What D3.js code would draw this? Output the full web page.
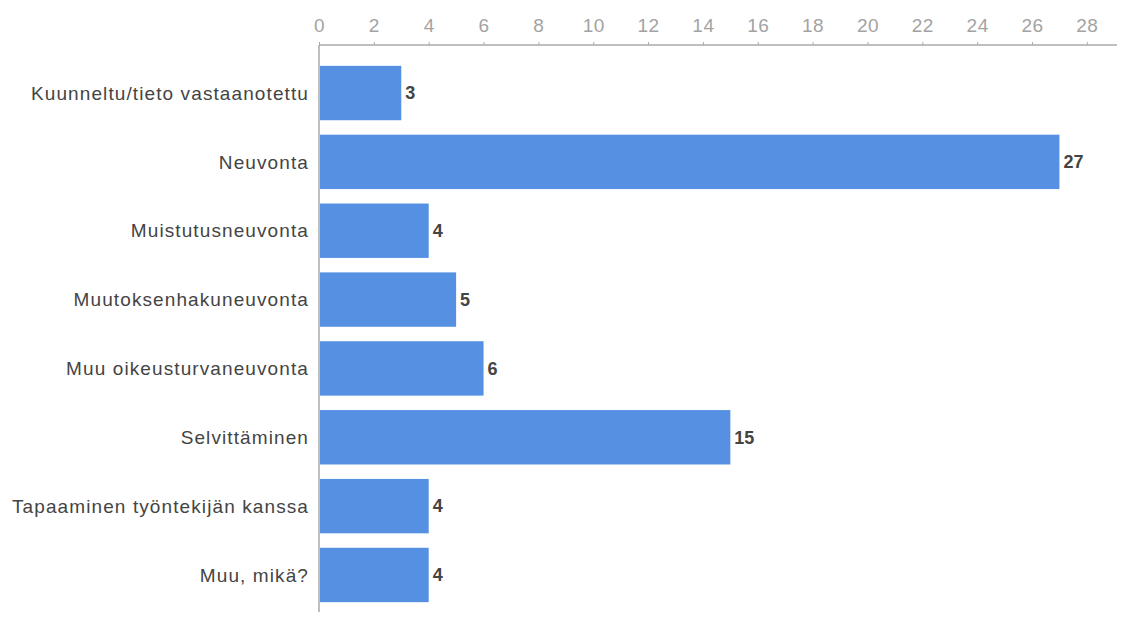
<!DOCTYPE html>
<html><head><meta charset="utf-8">
<script src="https://cdn.jsdelivr.net/npm/d3@7"></script>
<style>body{margin:0;background:#fff;}svg{display:block;}</style>
</head><body>
<svg id="c" width="1127" height="618"></svg>
<script>
const categories = ["Kuunneltu/tieto vastaanotettu","Neuvonta","Muistutusneuvonta","Muutoksenhakuneuvonta","Muu oikeusturvaneuvonta","Selvittäminen","Tapaaminen työntekijän kanssa","Muu, mikä?"];
const values = [3,27,4,5,6,15,4,4];
const tickValues = [0,2,4,6,8,10,12,14,16,18,20,22,24,26,28];

const svg = d3.select("#c");
const FONT = "Liberation Sans, Arial, sans-serif";
const x = d3.scaleLinear().domain([0,29.1]).range([319,1117]);
const y = d3.scaleBand().domain(categories).range([58.6,609.4]).paddingInner(0.21).paddingOuter(0.105);

// top axis
const gx = svg.append("g").attr("transform","translate(0,45)")
  .call(d3.axisTop(x).tickValues(tickValues).tickSize(3).tickPadding(10).tickFormat(d3.format("d")));
gx.select(".domain").attr("stroke","#aaa").attr("stroke-width",1.5).attr("d","M319,0H1117");
gx.selectAll(".tick line").attr("stroke","#aaa");
gx.selectAll(".tick text").attr("fill","#a3a3a3").attr("font-family",FONT).attr("font-size",19).attr("letter-spacing","0.5px");

// left axis line
svg.append("line").attr("x1",x(0)).attr("x2",x(0)).attr("y1",45).attr("y2",612).attr("stroke","#aaa").attr("stroke-width",1.5);

// bars
svg.append("g").selectAll("rect").data(categories).join("rect")
  .attr("x",x(0)+1).attr("y",d=>y(d)).attr("height",y.bandwidth())
  .attr("width",(d,i)=>x(values[i])-x(0)-1).attr("fill","#5590e2");

// category labels
svg.append("g").selectAll("text").data(categories).join("text")
  .attr("x",309).attr("y",d=>y(d)+y.bandwidth()/2).attr("dy","0.35em")
  .attr("text-anchor","end").attr("fill","#444").attr("font-family",FONT)
  .attr("font-size",19).attr("letter-spacing","1.1px").text(d=>d);

// value labels
svg.append("g").selectAll("text").data(categories).join("text")
  .attr("x",(d,i)=>x(values[i])+4).attr("y",d=>y(d)+y.bandwidth()/2).attr("dy","0.35em")
  .attr("fill","#444").attr("font-weight","bold").attr("font-family",FONT)
  .attr("font-size",18).text((d,i)=>values[i]);
</script>
</body></html>
